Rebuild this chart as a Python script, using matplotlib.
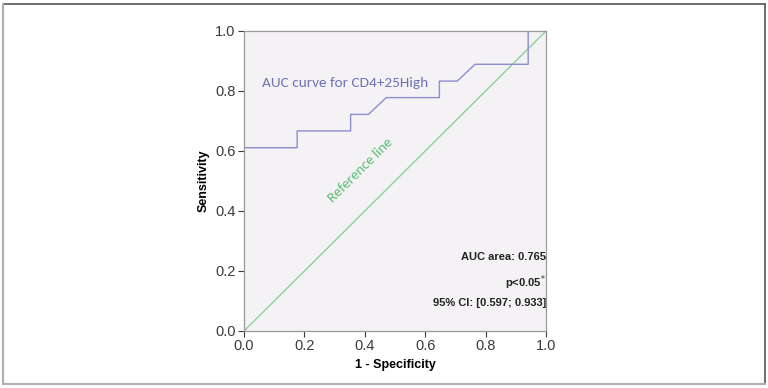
import matplotlib.pyplot as plt
from matplotlib.lines import Line2D

# ROC curve points (1 - specificity, sensitivity)
fpr = [0.0, 0.0, 0.176, 0.176, 0.353, 0.353, 0.412, 0.471, 0.647, 0.647,
       0.706, 0.765, 0.941, 0.941, 1.0]
tpr = [0.0, 0.611, 0.611, 0.667, 0.667, 0.722, 0.722, 0.778, 0.778, 0.833,
       0.833, 0.889, 0.889, 1.0, 1.0]
ticks = [0.0, 0.2, 0.4, 0.6, 0.8, 1.0]
stats = ["AUC area: 0.765", "p<0.05$^{*}$", "95% CI: [0.597; 0.933]"]

plt.rcParams['font.family'] = ['Liberation Sans', 'DejaVu Sans']

fig = plt.figure(figsize=(7.68, 3.88), dpi=100)
ax = fig.add_axes([244 / 768, 57 / 388, 302 / 768, 300 / 388])
ax.set_facecolor('#f4f2f4')

ax.plot([0, 1], [0, 1], color='#80d090', lw=0.9)
ax.plot(fpr, tpr, color='#8c8cd0', lw=1.0)

ax.set_xlim(0, 1)
ax.set_ylim(0, 1)
ax.set_xticks(ticks)
ax.set_yticks(ticks)
ax.set_xticklabels(['%.1f' % t for t in ticks])
ax.set_yticklabels(['%.1f' % t for t in ticks])
ax.tick_params(labelsize=10.5, colors='#3a3a3a', length=4, width=0.8, pad=2)
for s in ax.spines.values():
    s.set_color('#999999')
    s.set_linewidth(0.9)

ax.set_xlabel('1 - Specificity', fontsize=9, fontweight='bold', labelpad=4)
ax.set_ylabel('Sensitivity', fontsize=9, fontweight='bold', labelpad=4)

ax.text(0.06, 0.828, 'AUC curve for CD4+25High', color='#6e72b8', fontsize=11,
        family=['Carlito', 'Open Sans', 'DejaVu Sans'], va='center')
ax.text(0.387, 0.537, 'Reference line', color='#5cbf78', fontsize=10.5,
        family=['Carlito', 'Open Sans', 'DejaVu Sans'], rotation=44.8,
        rotation_mode='anchor', ha='center', va='center')

for txt, yy in zip(stats, [0.247, 0.16, 0.093]):
    ax.text(1.0, yy, txt, ha='right', va='center', fontsize=8,
            fontweight='bold', color='#222222')

# outer frame of the figure
fig.add_artist(Line2D([3 / 768, 765 / 768], [1 - 4 / 388, 1 - 4 / 388],
                      transform=fig.transFigure, color='#555555', lw=1.2))
fig.add_artist(Line2D([765 / 768, 765 / 768], [1 - 4 / 388, 1 - 384 / 388],
                      transform=fig.transFigure, color='#555555', lw=1.2))
fig.add_artist(Line2D([3 / 768, 765 / 768], [1 - 384 / 388, 1 - 384 / 388],
                      transform=fig.transFigure, color='#b0b0b0', lw=1.5))
fig.add_artist(Line2D([3 / 768, 3 / 768], [1 - 4 / 388, 1 - 384 / 388],
                      transform=fig.transFigure, color='#b0b0b0', lw=1.5))

fig.savefig('out.png', dpi=100)
